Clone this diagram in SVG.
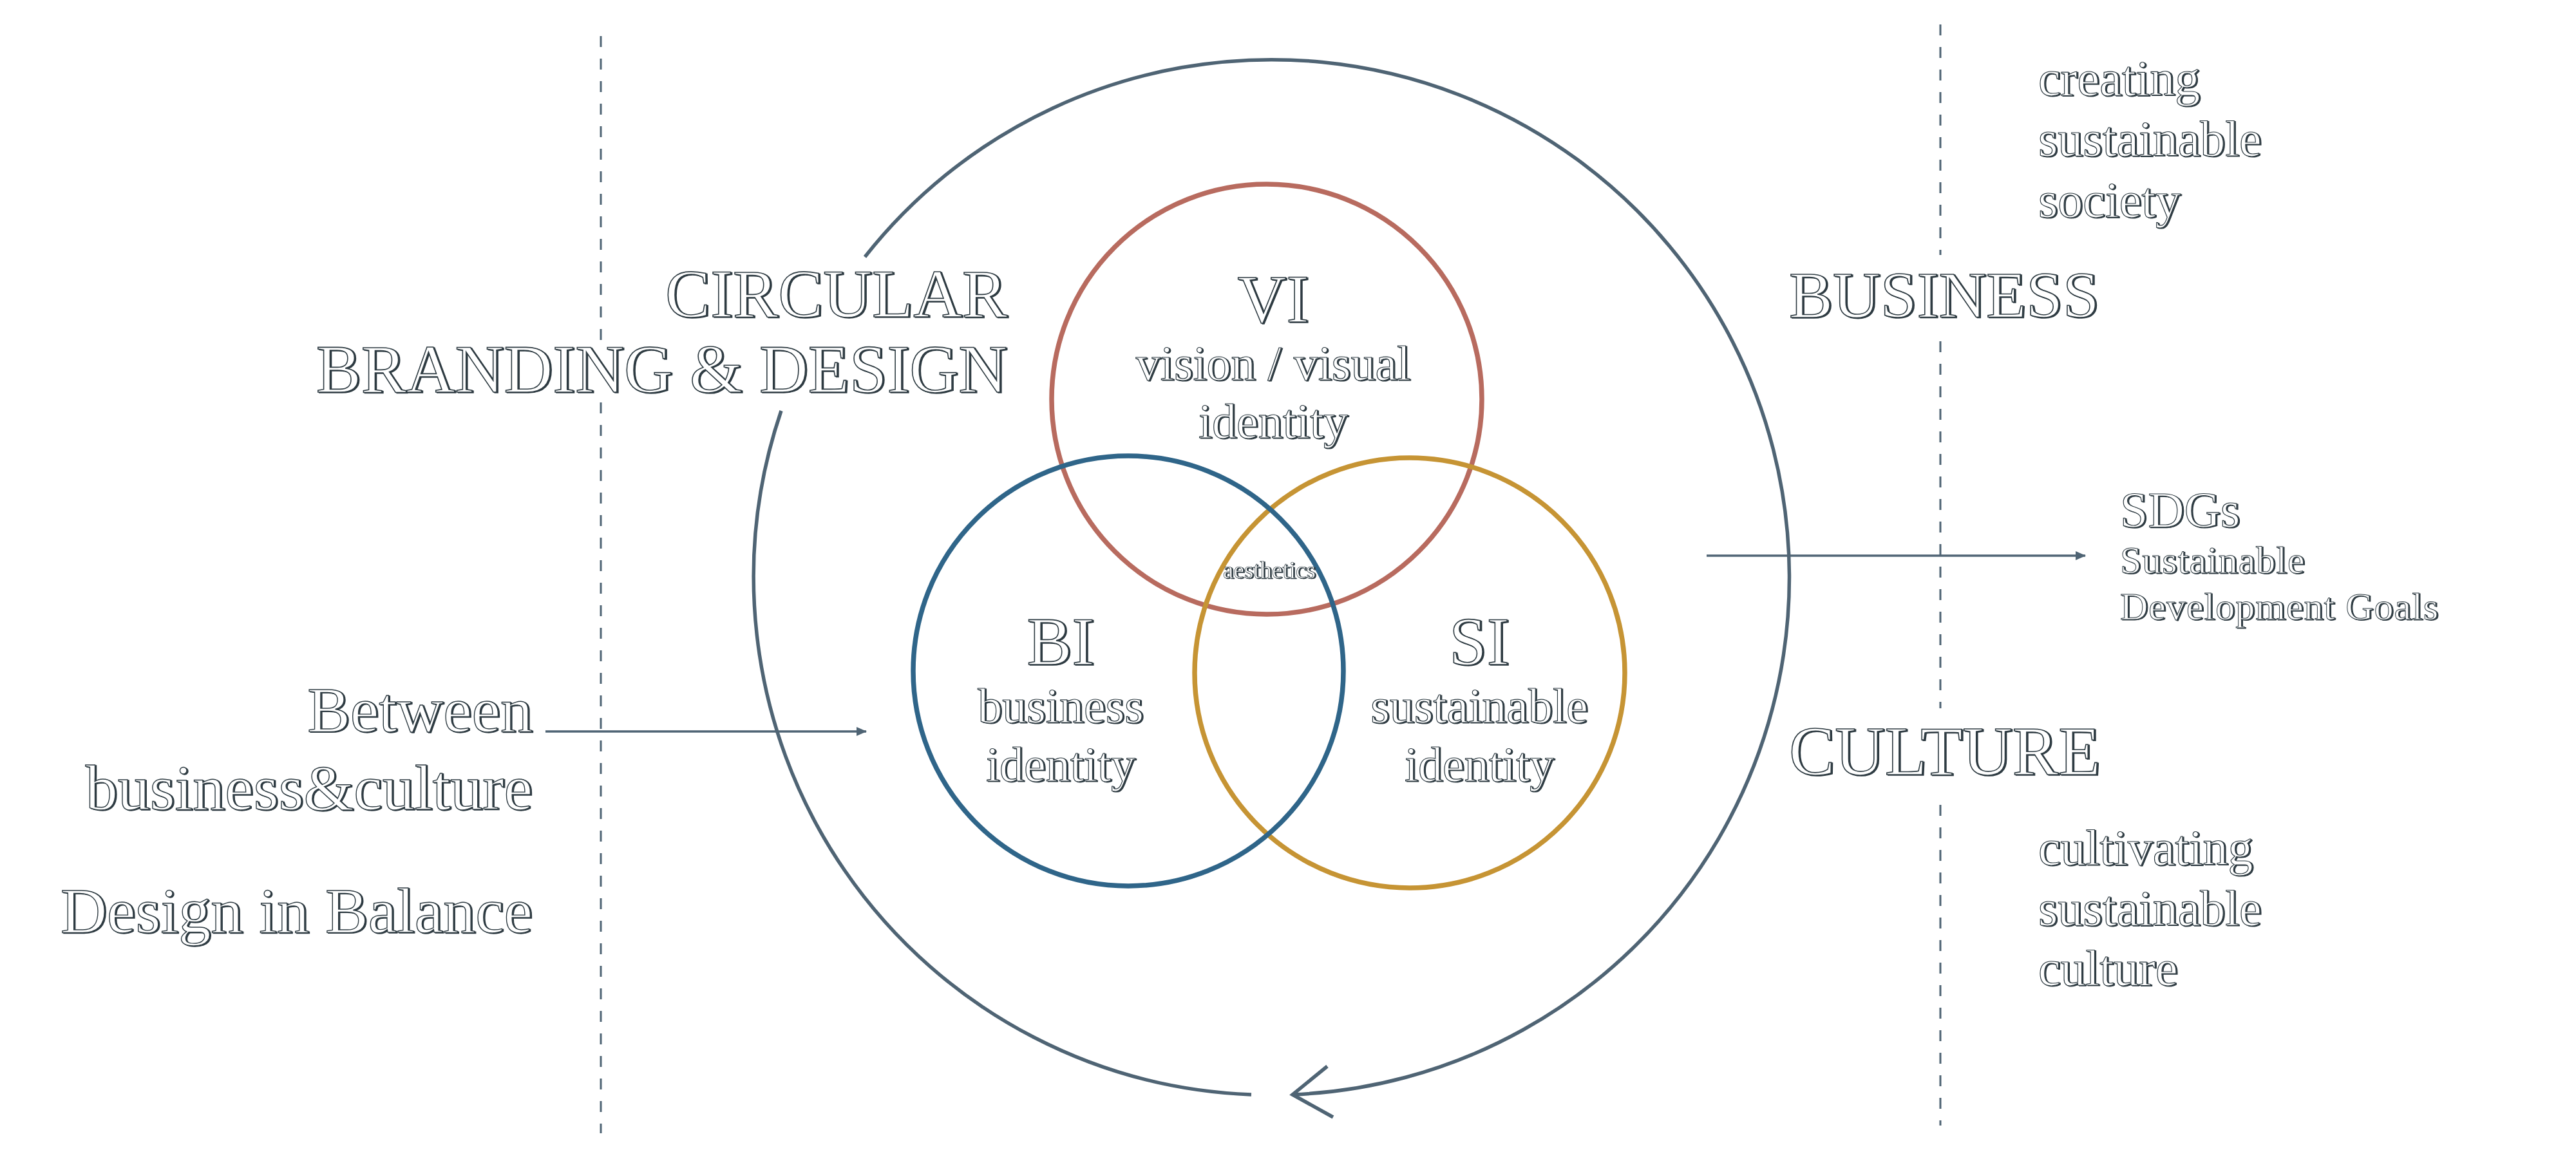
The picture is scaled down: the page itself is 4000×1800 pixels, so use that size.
<svg xmlns="http://www.w3.org/2000/svg" width="4000" height="1800" viewBox="0 0 4000 1800">
<defs>
<style>
.t{font-family:"Liberation Serif","Times New Roman",serif;fill:#fff;stroke:#2e3b42;filter:url(#eng);}
.xl{font-size:105px;stroke-width:1.6;}
.l{font-size:100px;stroke-width:1.4;}
.m{font-size:76px;stroke-width:1.2;}
.s{font-size:60px;stroke-width:1;letter-spacing:1px;}
.xs{font-size:37px;stroke-width:0.7;}
.mid{text-anchor:middle;}
.end{text-anchor:end;}
.dash{stroke:#4f6474;stroke-width:3;stroke-dasharray:17 18;fill:none;}
.ring{fill:none;stroke:#4f6474;stroke-width:5.5;stroke-linecap:butt;}
.arr{stroke:#4f6474;stroke-width:3.5;fill:none;marker-end:url(#ah);}
.venn{fill:none;stroke-width:7.5;}
</style>
<filter id="eng" x="-5%" y="-10%" width="110%" height="130%">
<feOffset in="SourceAlpha" dx="1.6" dy="1.2" result="o"/>
<feFlood flood-color="#2e3b42" result="f"/>
<feComposite in="f" in2="o" operator="in" result="sh"/>
<feMerge><feMergeNode in="sh"/><feMergeNode in="SourceGraphic"/></feMerge>
</filter>
<marker id="ah" markerUnits="userSpaceOnUse" markerWidth="16" markerHeight="14" refX="15" refY="7" orient="auto"><path d="M0,0 L16,7 L0,14 z" fill="#4f6474"/></marker>
</defs>
<rect width="4000" height="1800" fill="#fff"/>
<g id="dividers">
<path class="dash" d="M933,56 V540 M933,625 V1760"/>
<path class="dash" d="M3013,38 V396 M3013,530 V1100 M3013,1250 V1748"/>
</g>
<g id="connectors">
<path class="ring" d="M1343,399 A804,804 0 1 1 2007,1700"/>
<path class="ring" d="M1213,638 A804,804 0 0 0 1943,1700"/>
<path class="ring" d="M2061,1656 L2007,1700 L2070,1735"/>
<path class="arr" d="M847,1136 H1345"/>
<path class="arr" d="M2650,863 H3238"/>
</g>
<g id="title">
<text class="t xl end" x="1564" y="492">CIRCULAR</text>
<text class="t xl end" x="1564" y="609">BRANDING &amp; DESIGN</text>
</g>
<g id="VI">
<circle class="venn" cx="1967" cy="620" r="334" stroke="#b86b5f"/>
<text class="t xl mid" x="1977" y="500">VI</text>
<text class="t m mid" x="1977" y="590">vision / visual</text>
<text class="t m mid" x="1977" y="680">identity</text>
</g>
<g id="SI">
<circle class="venn" cx="2189" cy="1045" r="334" stroke="#c69434"/>
<text class="t xl mid" x="2297" y="1032">SI</text>
<text class="t m mid" x="2297" y="1122">sustainable</text>
<text class="t m mid" x="2297" y="1213">identity</text>
</g>
<g id="BI">
<circle class="venn" cx="1752" cy="1042" r="334" stroke="#2f6589"/>
<text class="t xl mid" x="1647" y="1032">BI</text>
<text class="t m mid" x="1647" y="1122">business</text>
<text class="t m mid" x="1647" y="1213">identity</text>
</g>
<g id="aesthetics">
<text class="t xs mid" x="1971" y="898">aesthetics</text>
</g>
<g id="business">
<text class="t xl" x="2778" y="493" style="font-size:102px">BUSINESS</text>
</g>
<g id="society">
<text class="t m" x="3165" y="148" style="font-size:78px">creating</text>
<text class="t m" x="3165" y="242" style="font-size:78px">sustainable</text>
<text class="t m" x="3165" y="337" style="font-size:78px">society</text>
</g>
<g id="sdgs">
<text class="t m" x="3292" y="818" style="font-size:78px">SDGs</text>
<text class="t s" x="3292" y="890">Sustainable</text>
<text class="t s" x="3292" y="962">Development Goals</text>
</g>
<g id="culture">
<text class="t xl" x="2778" y="1203" style="font-size:107px">CULTURE</text>
</g>
<g id="cultivating">
<text class="t m" x="3165" y="1343" style="font-size:78px">cultivating</text>
<text class="t m" x="3165" y="1437" style="font-size:78px">sustainable</text>
<text class="t m" x="3165" y="1530" style="font-size:78px">culture</text>
</g>
<g id="balance">
<text class="t l end" x="827" y="1136">Between</text>
<text class="t l end" x="827" y="1257">business&amp;culture</text>
<text class="t l end" x="827" y="1448">Design in Balance</text>
</g>
</svg>
